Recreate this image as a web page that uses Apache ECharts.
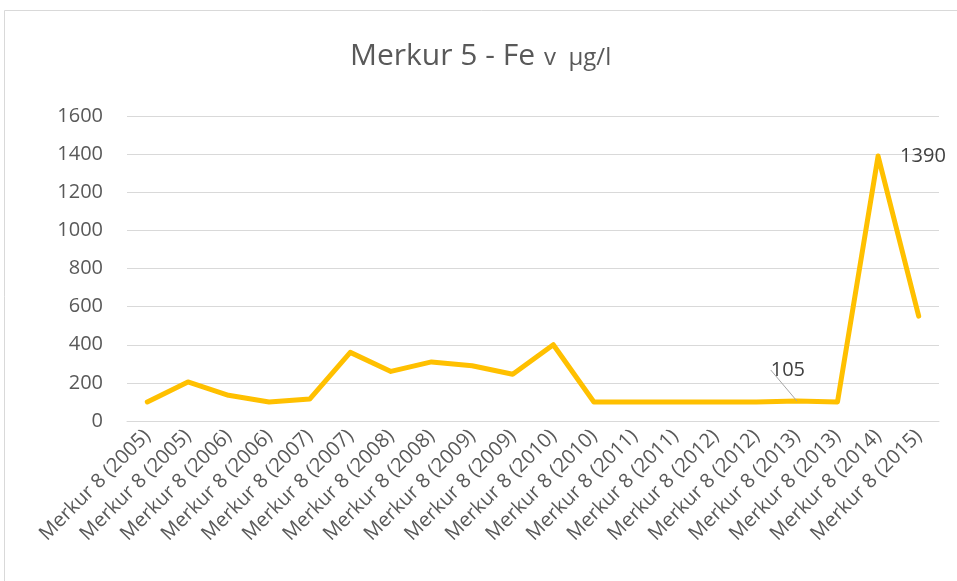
<!DOCTYPE html>
<html>
<head>
<meta charset="utf-8">
<script src="https://cdn.jsdelivr.net/npm/echarts@6/dist/echarts.min.js"></script>
<style>
  html, body { margin: 0; padding: 0; background: #fff; }
  #chart { width: 957px; height: 581px; }
</style>
</head>
<body>
<div id="chart"></div>
<script>
const categories = [
  'Merkur 8 (2005)', 'Merkur 8 (2005)', 'Merkur 8 (2006)', 'Merkur 8 (2006)',
  'Merkur 8 (2007)', 'Merkur 8 (2007)', 'Merkur 8 (2008)', 'Merkur 8 (2008)',
  'Merkur 8 (2009)', 'Merkur 8 (2009)', 'Merkur 8 (2010)', 'Merkur 8 (2010)',
  'Merkur 8 (2011)', 'Merkur 8 (2011)', 'Merkur 8 (2012)', 'Merkur 8 (2012)',
  'Merkur 8 (2013)', 'Merkur 8 (2013)', 'Merkur 8 (2014)', 'Merkur 8 (2015)'
]
const feValues = [100, 205, 135, 100, 115, 360, 260, 310, 290, 245, 400, 100, 100, 100, 100, 100, 105, 100, 1390, 550]

const font = '"Open Sans", sans-serif'
const chart = echarts.init(document.getElementById('chart'))

// only two points carry a data label in the original
const seriesData = feValues.map((v, i) => {
  if (i === 16) {
    return {
      value: v,
      label: { show: true, position: 'top' },
      labelLine: { show: true, lineStyle: { color: '#a6a6a6', width: 1 } }
    }
  }
  if (i === 18) {
    return { value: v, label: { show: true, position: 'right', distance: 22, offset: [0, 2] } }
  }
  return v
})

chart.setOption({
  animation: false,
  backgroundColor: '#fff',
  graphic: [{
    type: 'rect',
    shape: { x: 4.5, y: 10.5, width: 1000, height: 1000 },
    style: { fill: 'none', stroke: '#d9d9d9', lineWidth: 1 },
    silent: true
  }],
  title: {
    text: '{a|Merkur 5 - Fe} {b|v  µg/l}',
    left: 345,
    top: 36,
    textStyle: {
      rich: {
        a: { fontFamily: font, fontSize: 30, fontWeight: 'normal', color: '#595959' },
        b: { fontFamily: font, fontSize: 24, fontWeight: 'normal', color: '#595959', padding: [4, 0, 0, 4] }
      }
    }
  },
  grid: { left: 127, right: 18, top: 116, bottom: 160, containLabel: false },
  xAxis: {
    type: 'category',
    data: categories,
    boundaryGap: true,
    axisLine: { show: true, lineStyle: { color: '#d9d9d9', width: 1 } },
    axisTick: { show: false },
    axisLabel: {
      interval: 0,
      rotate: 45,
      margin: 12,
      fontFamily: font,
      fontSize: 20,
      color: '#595959'
    }
  },
  yAxis: {
    type: 'value',
    min: 0,
    max: 1600,
    interval: 200,
    axisLine: { show: false },
    axisTick: { show: false },
    splitLine: { lineStyle: { color: '#d9d9d9', width: 1 } },
    axisLabel: {
      fontFamily: font, fontSize: 20, color: '#595959', margin: 24,
      formatter: v => String(v)
    }
  },
  series: [{
    name: 'Fe',
    type: 'line',
    data: seriesData,
    symbol: 'circle',
    symbolSize: 0,
    showSymbol: true,
    lineStyle: { color: '#ffc000', width: 5, join: 'round', cap: 'round' },
    itemStyle: { color: '#ffc000' },
    label: { fontFamily: font, fontSize: 20, color: '#404040' },
    labelLayout: p => (p.dataIndex === 16 ? { dx: -9, dy: -16 } : {}),
    labelLine: { show: false }
  }]
})
</script>
</body>
</html>
